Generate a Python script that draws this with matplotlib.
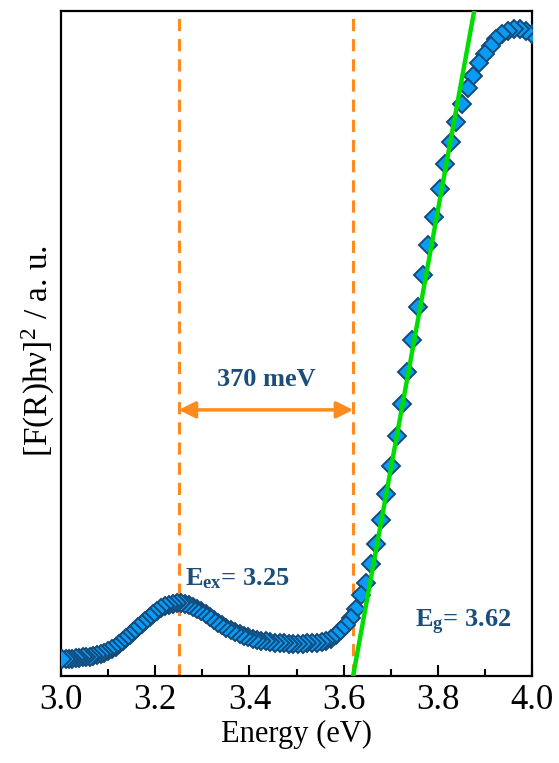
import matplotlib
matplotlib.use("Agg")
import matplotlib.pyplot as plt
import numpy as np

plt.rcParams['font.family'] = ['Liberation Serif', 'DejaVu Serif']
plt.rcParams['mathtext.fontset'] = 'custom'
plt.rcParams['mathtext.rm'] = 'Liberation Serif'
plt.rcParams['mathtext.bf'] = 'Liberation Serif:bold'
plt.rcParams['mathtext.it'] = 'Liberation Serif:italic'

# Photon energy (eV), 1 nm wavelength steps from 310 nm to 413 nm
energy = [4.000, 3.987, 3.974, 3.962, 3.949, 3.937, 3.924, 3.912, 3.899, 3.887,
          3.875, 3.863, 3.851, 3.839, 3.827, 3.815, 3.804, 3.792, 3.780, 3.769,
          3.758, 3.746, 3.735, 3.724, 3.713, 3.701, 3.690, 3.680, 3.669, 3.658,
          3.647, 3.636, 3.626, 3.615, 3.605, 3.594, 3.584, 3.573, 3.563, 3.553,
          3.543, 3.533, 3.523, 3.513, 3.503, 3.493, 3.483, 3.473, 3.464, 3.454,
          3.444, 3.435, 3.425, 3.416, 3.407, 3.397, 3.388, 3.379, 3.370, 3.360,
          3.351, 3.342, 3.333, 3.324, 3.316, 3.307, 3.298, 3.289, 3.280, 3.272,
          3.263, 3.255, 3.246, 3.238, 3.229, 3.221, 3.212, 3.204, 3.196, 3.188,
          3.179, 3.171, 3.163, 3.155, 3.147, 3.139, 3.131, 3.123, 3.116, 3.108,
          3.100, 3.092, 3.085, 3.077, 3.069, 3.062, 3.054, 3.047, 3.039, 3.032,
          3.024, 3.017, 3.010, 3.002]

# [F(R)hv]^2 in arbitrary units
frhv2 = [96.5, 97.0, 97.3, 97.3, 97.0, 96.5, 95.8, 94.7, 93.5, 92.2,
         90.2, 88.4, 85.9, 83.3, 80.3, 77.0, 73.2, 69.0, 64.8, 60.2,
         55.5, 50.5, 45.7, 40.9, 36.1, 31.6, 27.4, 23.5, 19.8, 16.8,
         14.0, 12.2, 10.1, 8.7, 7.7, 6.9, 6.2, 5.6, 5.3, 5.1,
         5.0, 5.0, 4.9, 4.8, 4.8, 4.8, 4.8, 4.9, 5.0, 5.0,
         5.1, 5.2, 5.3, 5.4, 5.6, 5.8, 6.0, 6.3, 6.6, 6.9,
         7.2, 7.6, 8.0, 8.4, 8.9, 9.3, 9.7, 10.1, 10.4, 10.6,
         10.8, 10.9, 10.9, 10.8, 10.7, 10.5, 10.2, 9.8, 9.3, 8.9,
         8.3, 7.8, 7.3, 6.8, 6.2, 5.7, 5.3, 4.8, 4.4, 4.1,
         3.8, 3.5, 3.3, 3.2, 3.0, 2.9, 2.9, 2.8, 2.7, 2.7,
         2.6, 2.6, 2.6, 2.6]

# Tauc linear fit and marked energies
e_gap = 3.62
fit_slope = 389.0
e_exciton = 3.25
x_ticks = [3.0, 3.2, 3.4, 3.6, 3.8, 4.0]

orange = '#FF8A1E'
navy = '#1B4E7A'

fig = plt.figure(figsize=(5.59, 7.63), dpi=100)
ax = fig.add_axes([0.109, 0.114, 0.843, 0.872])

ax.plot(energy, frhv2, linestyle='none', marker='D', markersize=9.5,
        markerfacecolor='#0A9BF5', markeredgecolor='#154A78',
        markeredgewidth=1.4, zorder=3)

fit_x = np.array([3.55, 3.95])
ax.plot(fit_x, fit_slope * (fit_x - e_gap), color='#00DD00', lw=3.2, zorder=4)

for xv in (e_exciton, e_gap):
    ax.axvline(xv, color=orange, lw=2.2, linestyle=(0, (4, 2.6)), zorder=2)

ax.annotate('', xy=(e_gap, 40), xytext=(e_exciton, 40),
            arrowprops=dict(arrowstyle='<|-|>', color=orange, lw=2.5,
                            mutation_scale=25, shrinkA=0, shrinkB=0))
ax.text((e_exciton + e_gap) / 2, 42.8, '370 meV', color=navy, fontsize=19,
        fontweight='bold', ha='center', va='bottom')
ax.text(3.263, 12.8, r'$\mathbf{E}_{\mathbf{ex}}$= 3.25', color=navy,
        fontsize=19, fontweight='bold', ha='left', va='bottom')
ax.text(3.751, 5.9, r'$\mathbf{E}_{\mathbf{g}}$= 3.62', color=navy,
        fontsize=19, fontweight='bold', ha='left', va='bottom')

ax.set_xlim(3.0, 4.0)
ax.set_ylim(0, 100)
ax.set_xticks(x_ticks)
ax.set_xticklabels([f'{t:.1f}' for t in x_ticks])
ax.set_xticks(np.arange(3.1, 4.0, 0.2), minor=True)
ax.set_yticks([])
ax.tick_params(axis='x', which='major', direction='in', length=8, width=1.5,
               labelsize=25, pad=6)
ax.tick_params(axis='x', which='minor', direction='in', length=5, width=1.5)
for s in ax.spines.values():
    s.set_linewidth(1.6)

ax.set_xlabel('Energy (eV)', fontsize=22, labelpad=2)
ax.set_ylabel('[F(R)hν]$^{2}$ / a. u.', fontsize=24)
ax.yaxis.set_label_coords(-0.008, 0.489)

fig.savefig('out.png', dpi=100)
